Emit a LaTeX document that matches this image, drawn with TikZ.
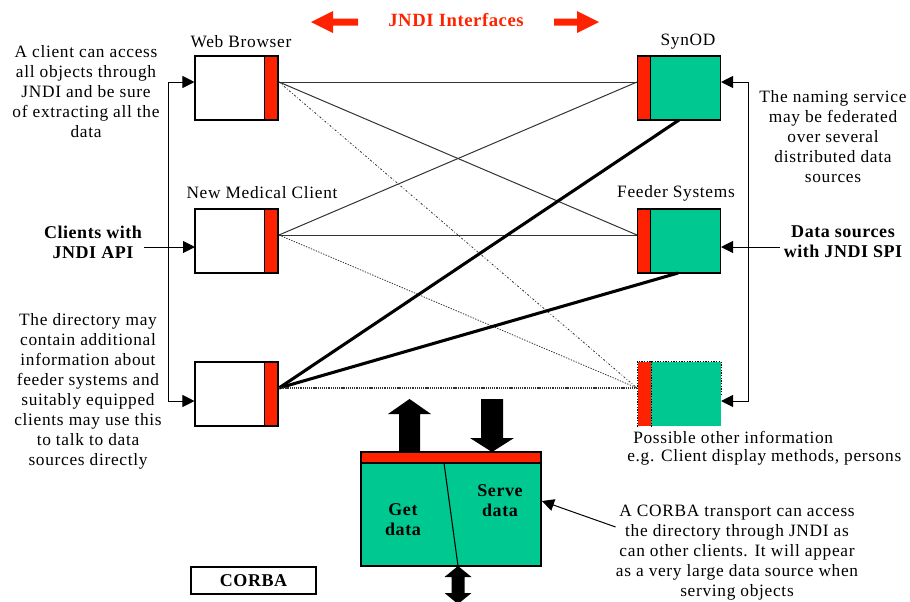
\documentclass[tikz,border=0pt]{standalone}
\usepackage{fontspec}
\setmainfont{Liberation Serif}
\usetikzlibrary{arrows.meta}
\definecolor{jred}{RGB}{255,34,0}
\definecolor{jgreen}{RGB}{0,200,145}
\begin{document}
\begin{tikzpicture}[x=0.75pt,y=-0.75pt,
  txt/.style={font=\fontsize{13}{15}\selectfont\addfontfeature{LetterSpace=4}, align=center, inner sep=0pt},
  btxt/.style={font=\fontsize{13.5}{15}\selectfont\bfseries\addfontfeature{LetterSpace=3}, align=center, inner sep=0pt},
  cbox/.style={draw=black, line width=0.8pt, fill=white, minimum width=62.25pt, minimum height=48pt, inner sep=0pt},
  sbox/.style={cbox, fill=jgreen},
  stripbox/.style={draw=black, line width=0.8pt, fill=jred, minimum width=10pt, minimum height=48pt, inner sep=0pt},
  link/.style={draw=black!80, line width=0.75pt},
  heavy/.style={draw=black, line width=2.3pt},
  dlink/.style={draw=black!80, line width=0.6pt, dash pattern=on 1.5pt off 1.5pt on 0.5pt off 1.5pt},
  dotlink/.style={draw=black!80, line width=0.6pt, dash pattern=on 1pt off 1pt},
  arr/.style={draw=black, line width=0.75pt, -{Triangle[length=9pt,width=9pt]}}
]
\useasboundingbox (0,0) rectangle (910,601);

% top red arrows and title
\fill[jred] (358,18.5) -- (333,18.5) -- (333,11) -- (311,22) -- (333,33) -- (333,25.5) -- (358,25.5) -- cycle;
\fill[jred] (554,18.5) -- (577,18.5) -- (577,11) -- (599,22) -- (577,33) -- (577,25.5) -- (554,25.5) -- cycle;
\node[btxt, text=jred, font=\fontsize{14}{15}\selectfont\bfseries\addfontfeature{LetterSpace=3}] (title) at (456,20) {JNDI Interfaces};

% client boxes
\node[cbox] (wb) at (236.5,88) {};
\node[stripbox, anchor=north east] (wbr) at (wb.north east) {};
\node[cbox] (nmc) at (236.5,241) {};
\node[stripbox, anchor=north east] (nmcr) at (nmc.north east) {};
\node[cbox] (dc) at (236.5,394) {};
\node[stripbox, anchor=north east] (dcr) at (dc.north east) {};

\node[txt] (lwb) at (241,42) {Web Browser};
\node[txt] (lnmc) at (262,193) {New Medical Client};

% server boxes
\node[sbox] (syn) at (679,88) {};
\node[stripbox, anchor=north west] (synr) at (syn.north west) {};
\node[sbox] (feed) at (679,241) {};
\node[stripbox, anchor=north west] (feedr) at (feed.north west) {};
\node[sbox, draw=none] (oth) at (679,394) {};
\node[stripbox, draw=none, anchor=north west] (othr) at (oth.north west) {};
\draw[black, line width=0.6pt, dash pattern=on 1pt off 1pt] (oth.south west) -- (oth.north west) -- (oth.north east) -- (oth.east);
\draw[black, line width=0.6pt, dash pattern=on 1pt off 1pt] (othr.north east) -- (othr.south east);

\node[txt] (lsyn) at (688,42) {SynOD};
\node[txt] (lfeed) at (676,193) {Feeder Systems};

% ports
\coordinate (wbp) at (279,82);
\coordinate (nmcp) at (279,235);
\coordinate (dcp) at (279,388);
\coordinate (synp) at (637,82);
\coordinate (feedp) at (637,235);
\coordinate (othp) at (637,388);
\coordinate (synb) at (679,120);
\coordinate (feedb) at (678,273);

% connectors
\draw[link] (wbp) -- (synp);
\draw[link] (wbp) -- (feedp);
\draw[dlink] (wbp) -- (othp);
\draw[link] (nmcp) -- (synp);
\draw[link] (nmcp) -- (feedp);
\draw[dotlink] (nmcp) -- (othp);
\draw[heavy] (dcp) -- (synb);
\draw[heavy] (dcp) -- (feedb);
\draw[draw=black!80, line width=1.2pt, dash pattern=on 0.8pt off 0.6pt] (dcp) -- (othp);

% left bus
\coordinate (lbt) at (168,82);
\coordinate (lbb) at (168,401);
\coordinate (nmcin) at (195,247);
\draw[arr] (lbb) -- (lbt) -- (wb.west |- lbt);
\draw[arr] (lbt) -- (lbb) -- (dc.west |- lbb);

% right bus
\coordinate (rbt) at (748,82);
\coordinate (rbb) at (748,401);
\coordinate (feedin) at (721,247);
\draw[arr] (rbb) -- (rbt) -- (syn.east |- rbt);
\draw[arr] (rbt) -- (rbb) -- (oth.east |- rbb);

% left texts
\node[txt] (ta) at (86,92) {A client can access\\all objects through\\JNDI and be sure\\of extracting all the\\data};
\node[btxt] (tapi) at (93,242) {Clients with\\JNDI API};
\draw[arr] (tapi.east |- nmcin) ++(2,0) -- (nmcin);
\node[txt] (tdir) at (88,391) {The directory may\\contain additional\\information about\\feeder systems and\\suitably equipped\\clients may use this\\to talk to data\\sources directly};

% right texts
\node[txt] (tnam) at (833,137) {The naming service\\may be federated\\over several\\distributed data\\sources};
\node[btxt] (tspi) at (843,242) {Data sources\\with JNDI SPI};
\draw[arr] (tspi.west |- feedin) ++(-4,0) -- (feedin);
\node[txt, anchor=west] (tpos1) at (633,437) {Possible other information};
\node[txt, anchor=west] (tpos2) at (627,457) {e.g. Client display methods, persons};

% CORBA block
\node[draw=black, line width=0.8pt, fill=jgreen, minimum width=135pt, minimum height=85.5pt, inner sep=0pt] (cb) at (451,509) {};
\node[draw=black, line width=0.8pt, fill=jred, minimum width=135pt, minimum height=8.25pt, inner sep=0pt, anchor=north] (cbr) at (cb.north) {};
\coordinate (divt) at (444,463);
\coordinate (divb) at (458,566);
\draw[black, line width=0.8pt] (divt) -- (divb);
\node[btxt] (tget) at (403,520) {Get\\data};
\node[btxt] (tserve) at (500,501) {Serve\\data};

% block arrows on CORBA
\fill[black] (399,452) -- (399,414) -- (388,414) -- (409.5,399) -- (431,414) -- (420,414) -- (420,452) -- cycle;
\fill[black] (481,399) -- (503,399) -- (503,438) -- (514,438) -- (492,452) -- (470,438) -- (481,438) -- cycle;
\fill[black] (458,566) -- (471.5,577) -- (464.5,577) -- (464.5,593) -- (471.5,593) -- (458,604) -- (444.5,593) -- (451.5,593) -- (451.5,577) -- (444.5,577) -- cycle;

\node[draw=black, line width=0.8pt, minimum width=93.75pt, minimum height=20.25pt, inner sep=0pt, btxt] (corba) at (253.5,580.5) {CORBA};

\node[txt] (tcorba) at (737,553) {A CORBA transport can access\\the directory through JNDI as\\can other clients. It will appear\\as a very large data source when\\serving objects};
\coordinate (cbin) at (542,501);
\draw[arr] (tcorba.west |- 0,527) -- (cbin);
\end{tikzpicture}
\end{document}
